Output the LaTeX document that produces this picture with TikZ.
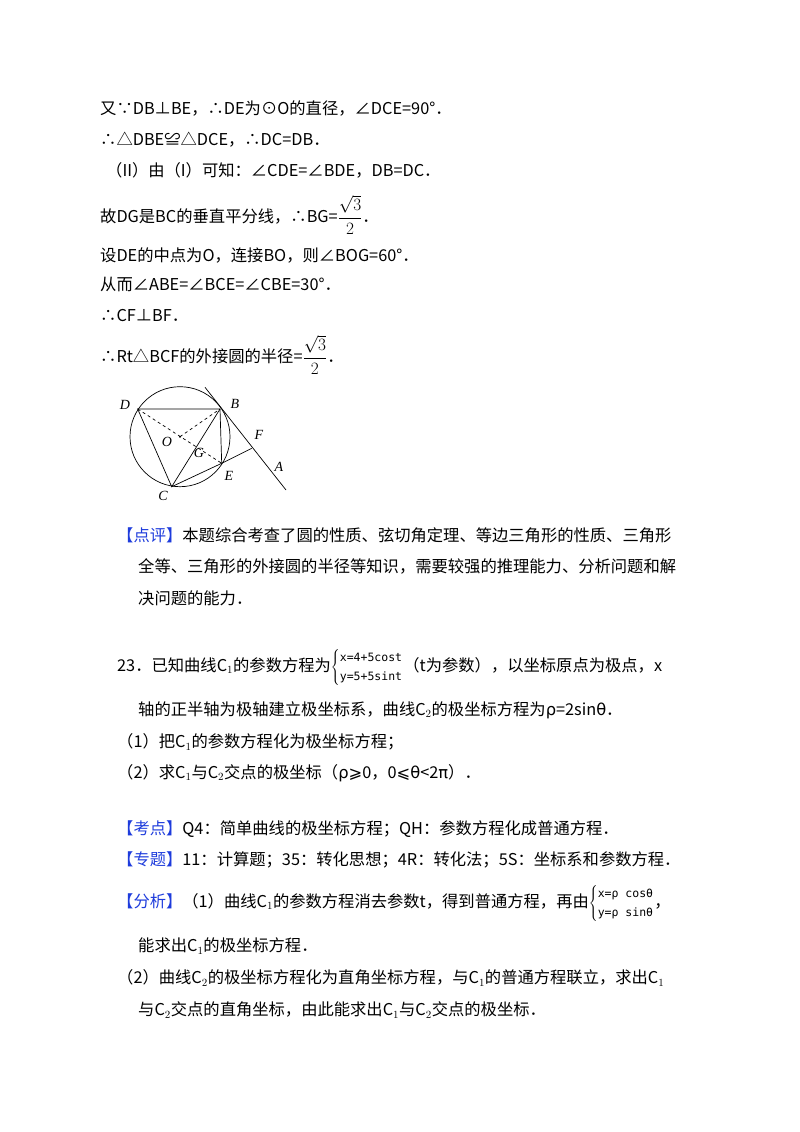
\documentclass[tikz,border=0pt]{standalone}
\usepackage{fontspec}
\setmainfont{Noto Sans CJK SC}
\newfontfamily\figfont{Liberation Serif}
\newfontfamily\djv{DejaVu Sans}
\newfontfamily\sysfont{DejaVu Sans Mono}
\newcommand{\sysl}[1]{\hbox{\fontsize{11.5}{13}\sysfont #1}}
\newcommand{\rtfrac}{$\displaystyle\frac{\sqrt{3}}{2}$}
\definecolor{hb}{RGB}{30,60,220}
\begin{document}
\begin{tikzpicture}[x=1pt,y=-1pt,
  tx/.style={anchor=west,inner sep=0pt,font=\fontsize{16.3}{20}\selectfont},
  lb/.style={font=\figfont\itshape\fontsize{14}{16}\selectfont,inner sep=0pt},
  ln/.style={line width=0.7pt},
  dl/.style={line width=0.7pt,dashed}]
\useasboundingbox (0,0) rectangle (800,1132);
\node[tx] (l1) at (100,108) {又∵DB⊥BE，∴DE为⊙O的直径，∠DCE=90°．};
\node[tx] (l2) at (100,140) {∴△DBE≌△DCE，∴DC=DB．};
\node[tx] (l3) at (106,170) {（II）由（I）可知：∠CDE=∠BDE，DB=DC．};
\node[tx] (l4) at (100,215) {故DG是BC的垂直平分线，∴BG=\rtfrac．};
\node[tx] (l5) at (100,255) {设DE的中点为O，连接BO，则∠BOG=60°．};
\node[tx] (l6) at (100,284) {从而∠ABE=∠BCE=∠CBE=30°．};
\node[tx] (l7) at (100,316) {∴CF⊥BF．};
\node[tx] (l8) at (100,355) {∴Rt△BCF的外接圆的半径=\rtfrac．};
% figure
\coordinate (O) at (180,436.7);
\coordinate (D) at (137.7,409);
\coordinate (B) at (220,409);
\coordinate (C) at (171.7,486.7);
\coordinate (E) at (221.7,463.3);
\coordinate (F) at (251.7,448.3);
\coordinate (T1) at (205,387.3);
\coordinate (T2) at (286,490);
\draw[ln] (O) circle (50);
\draw[ln] (D) -- (B) -- (C) -- cycle;
\draw[ln] (B) -- (E);
\draw[ln] (C) -- (E) -- (F);
\draw[ln] (T1) -- (T2);
\draw[dl] (D) -- (E);
\draw[dl] (O) -- (B);
\fill (O) circle (1.2);
\node[lb] at (125,405) {D};
\node[lb] at (235,404) {B};
\node[lb] at (167,442) {O};
\node[lb] at (199,453) {G};
\node[lb] at (259,435) {F};
\node[lb] at (229,476) {E};
\node[lb] at (279,467) {A};
\node[lb] at (163,496) {C};
% text
\node[tx] (p1) at (117,535) {\textcolor{hb}{【点评】}本题综合考查了圆的性质、弦切角定理、等边三角形的性质、三角形};
\node[tx] (p2) at (138,566) {全等、三角形的外接圆的半径等知识，需要较强的推理能力、分析问题和解};
\node[tx] (p3) at (138,598) {决问题的能力．};
\node[tx] (q1) at (117,667) {23．已知曲线C$_1$的参数方程为$\left\{\begin{array}{@{}l@{}}\sysl{x=4+5cost}\\[-1pt]\sysl{y=5+5sint}\end{array}\right.$（t为参数），以坐标原点为极点，x};
\node[tx] (q2) at (138,710) {轴的正半轴为极轴建立极坐标系，曲线C$_2$的极坐标方程为{\djv ρ}=2sin{\djv θ}．};
\node[tx] (q3) at (117,742) {（1）把C$_1$的参数方程化为极坐标方程；};
\node[tx] (q4) at (117,773) {（2）求C$_1$与C$_2$交点的极坐标（{\djv ρ⩾}0，0{\djv ⩽θ}<2{\djv π}）．};
\node[tx] (k1) at (117,829) {\textcolor{hb}{【考点】}Q4：简单曲线的极坐标方程；QH：参数方程化成普通方程．};
\node[tx] (k2) at (117,860) {\textcolor{hb}{【专题】}11：计算题；35：转化思想；4R：转化法；5S：坐标系和参数方程．};
\node[tx] (k3) at (117,903) {\textcolor{hb}{【分析】}（1）曲线C$_1$的参数方程消去参数t，得到普通方程，再由$\left\{\begin{array}{@{}l@{}}\sysl{x=ρ cosθ}\\[-1pt]\sysl{y=ρ sinθ}\end{array}\right.$，};
\node[tx] (k4) at (138,946) {能求出C$_1$的极坐标方程．};
\node[tx] (k5) at (117,978) {（2）曲线C$_2$的极坐标方程化为直角坐标方程，与C$_1$的普通方程联立，求出C$_1$};
\node[tx] (k6) at (138,1010) {与C$_2$交点的直角坐标，由此能求出C$_1$与C$_2$交点的极坐标．};
\end{tikzpicture}
\end{document}
